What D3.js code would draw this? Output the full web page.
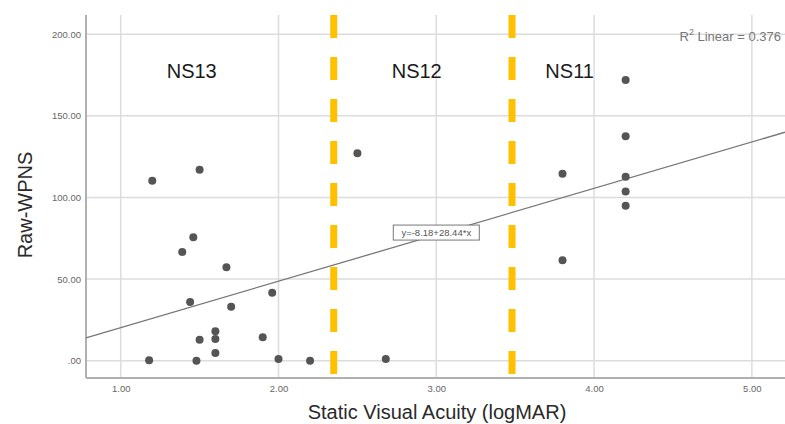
<!DOCTYPE html>
<html>
<head>
<meta charset="utf-8">
<script src="https://cdn.jsdelivr.net/npm/d3@7"></script>
<style>
  html, body { margin: 0; padding: 0; background: #fff; }
  svg { display: block; font-family: "Liberation Sans", Arial, sans-serif; }
</style>
</head>
<body>
<svg id="chart" width="785" height="424"></svg>
<script>
// ---- data ----
const xValues = [1.20, 1.50, 2.50, 4.20, 4.20, 3.80, 4.20, 4.20, 4.20, 3.80,
                 1.46, 1.39, 1.67, 1.44, 1.96, 1.70, 1.60, 1.60, 1.50, 1.90,
                 1.60, 1.18, 1.48, 2.00, 2.20, 2.68];
const yValues = [110.3, 117.0, 127.1, 172.0, 137.5, 114.6, 112.7, 103.6, 95.0, 61.5,
                 75.6, 66.6, 57.2, 36.0, 41.7, 33.1, 18.0, 13.3, 12.9, 14.3,
                 4.7, 0.2, 0.0, 1.0, 0.0, 1.0];
const xTicks = [1, 2, 3, 4, 5];
const xTickLabels = ["1.00", "2.00", "3.00", "4.00", "5.00"];
const yTicks = [0, 50, 100, 150, 200];
const yTickLabels = [".00", "50.00", "100.00", "150.00", "200.00"];
const cutoffs = [2.35, 3.48];
const groupLabels = ["NS13", "NS12", "NS11"];
const groupLabelX = [1.45, 2.876, 3.845];
const fitIntercept = -8.18;
const fitSlope = 28.44;
const fitLabel = "y=-8.18+28.44*x";
const r2Value = "0.376";
const xTitle = "Static Visual Acuity (logMAR)";
const yTitle = "Raw-WPNS";

// ---- layout ----
const svg = d3.select("#chart");
const pL = 86, pR = 785, pT = 15, pB = 378;
const x = d3.scaleLinear().domain([0.78, 5.21]).range([pL, pR]);
const y = d3.scaleLinear().domain([-10.6, 211.8]).range([pB, pT]);

// gridlines
const grid = svg.append("g");
grid.selectAll("line.hy").data(yTicks).join("line")
  .attr("x1", pL).attr("x2", pR)
  .attr("y1", d => y(d)).attr("y2", d => y(d))
  .attr("stroke", "#dcdcdc").attr("stroke-width", 1.5);
grid.selectAll("line.vx").data(xTicks).join("line")
  .attr("x1", d => x(d)).attr("x2", d => x(d))
  .attr("y1", pT).attr("y2", pB)
  .attr("stroke", "#dcdcdc").attr("stroke-width", 1.5);

// axes
const yAxis = d3.axisLeft(y).tickValues(yTicks).tickSize(0).tickPadding(5)
  .tickFormat((d, i) => yTickLabels[i]);
const yg = svg.append("g").attr("transform", `translate(${pL},0)`).call(yAxis);
yg.select(".domain").attr("stroke", "#b0b0b0").attr("stroke-width", 2)
  .attr("d", `M0,${pT}V${pB}`);
yg.selectAll("text").attr("font-size", 9.5).attr("fill", "#666")
  .attr("font-family", "'Liberation Sans', Arial, sans-serif");

const xAxis = d3.axisBottom(x).tickValues(xTicks).tickSize(0).tickPadding(7)
  .tickFormat((d, i) => xTickLabels[i]);
const xg = svg.append("g").attr("transform", `translate(0,${pB})`).call(xAxis);
xg.select(".domain").attr("stroke", "#b0b0b0").attr("stroke-width", 2)
  .attr("d", `M${pL},0H${pR}`);
xg.selectAll("text").attr("font-size", 9.5).attr("fill", "#666")
  .attr("font-family", "'Liberation Sans', Arial, sans-serif");

// cutoff dashed lines
svg.selectAll("line.cut").data(cutoffs).join("line")
  .attr("x1", d => x(d)).attr("x2", d => x(d))
  .attr("y1", pT).attr("y2", pB)
  .attr("stroke", "#ffc000").attr("stroke-width", 7)
  .attr("stroke-dasharray", "23,19");

// regression line
const xd = x.domain();
svg.append("line")
  .attr("x1", x(xd[0])).attr("y1", y(fitIntercept + fitSlope * xd[0]))
  .attr("x2", x(xd[1])).attr("y2", y(fitIntercept + fitSlope * xd[1]))
  .attr("stroke", "#777").attr("stroke-width", 1.3);

// points
const pts = xValues.map((v, i) => ({ x: v, y: yValues[i] }));
svg.selectAll("circle.pt").data(pts).join("circle")
  .attr("cx", d => x(d.x)).attr("cy", d => y(d.y)).attr("r", 4)
  .attr("fill", "#555");

// fit label box
const bx = x(3.0), by = y(78.5);
svg.append("rect").attr("x", bx - 43).attr("y", by - 7.5).attr("width", 86).attr("height", 15)
  .attr("fill", "#fff").attr("stroke", "#777").attr("stroke-width", 1);
svg.append("text").attr("x", bx).attr("y", by + 3.5).attr("text-anchor", "middle")
  .attr("font-size", 9.5).attr("fill", "#555").text(fitLabel);

// R^2 text
const r2 = svg.append("text").attr("x", 781).attr("y", 41).attr("text-anchor", "end")
  .attr("font-size", 13).attr("fill", "#777");
r2.append("tspan").text("R");
r2.append("tspan").attr("font-size", 9).attr("dy", -6).text("2");
r2.append("tspan").attr("dy", 6).text(" Linear = " + r2Value);

// group labels
svg.selectAll("text.grp").data(groupLabels).join("text")
  .attr("x", (d, i) => x(groupLabelX[i])).attr("y", 78)
  .attr("text-anchor", "middle").attr("font-size", 20).attr("fill", "#1a1a1a")
  .text(d => d);

// axis titles
svg.append("text").attr("x", 437).attr("y", 419).attr("text-anchor", "middle")
  .attr("font-size", 20).attr("fill", "#2a2a2a").text(xTitle);
svg.append("text").attr("transform", "translate(32,205) rotate(-90)")
  .attr("text-anchor", "middle").attr("font-size", 20).attr("fill", "#2a2a2a").text(yTitle);
</script>
</body>
</html>
